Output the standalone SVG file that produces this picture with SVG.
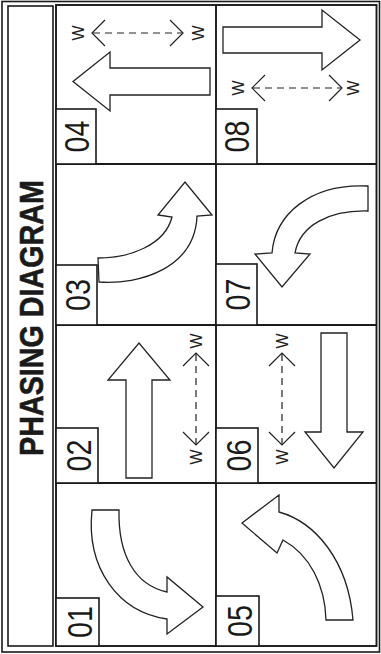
<svg xmlns="http://www.w3.org/2000/svg" width="381" height="654" viewBox="0 0 381 654">
<defs>
<style>
.frame{fill:none;stroke:#1a1a1a;stroke-width:1.6}
.grid{fill:none;stroke:#1a1a1a;stroke-width:1.9}
.lbox{fill:#fff;stroke:#1a1a1a;stroke-width:1.6}
.lbl{font-family:"Liberation Sans",Arial,sans-serif;font-size:35px;fill:#1a1a1a;text-anchor:middle}
.title{font-family:"Liberation Sans",Arial,sans-serif;font-weight:bold;font-size:34px;fill:#1a1a1a;text-anchor:middle;stroke:#1a1a1a;stroke-width:0.6}
.arrow{fill:#fff;stroke:#222;stroke-width:1.3;stroke-linejoin:miter}
.ped{fill:none;stroke:#222;stroke-width:1.2;stroke-dasharray:7 5}
.chev{fill:none;stroke:#222;stroke-width:1.2}
.w{font-family:"Liberation Sans",Arial,sans-serif;font-size:16px;fill:#222;text-anchor:middle}
</style>
</defs>
<rect width="381" height="654" fill="#fff"/>
<g id="frame">
<rect class="frame" x="2" y="1.5" width="377.5" height="650.5"/>
<rect class="frame" x="8" y="6" width="45" height="640"/>
<text class="title" transform="translate(42.5,318) rotate(-90)" textLength="276" lengthAdjust="spacingAndGlyphs">PHASING DIAGRAM</text>
</g>
<g id="grid">
<rect class="grid" x="56" y="5" width="320.5" height="641"/>
<line class="grid" x1="216" y1="5" x2="216" y2="646"/>
<line class="grid" x1="56" y1="164" x2="376.5" y2="164"/>
<line class="grid" x1="56" y1="325" x2="376.5" y2="325"/>
<line class="grid" x1="56" y1="483" x2="376.5" y2="483"/>
</g>
<g id="phase04">
<rect class="lbox" x="56" y="109" width="40" height="55"/>
<text class="lbl" transform="translate(88.5,136.5) rotate(-90) scale(0.82,1)">04</text>
<path class="arrow" d="M210 68 L110 68 L110 52 L73 81.5 L110 111 L110 95 L210 95 Z"/>
<line class="ped" x1="93" y1="33" x2="182" y2="33"/>
<polyline class="chev" points="105,20 92,33 105,46"/>
<polyline class="chev" points="170,20 183,33 170,46"/>
<text class="w" transform="translate(84,33) rotate(-90)">W</text>
<text class="w" transform="translate(203.5,33) rotate(-90)">W</text>
</g>
<g id="phase08">
<rect class="lbox" x="216" y="109" width="41" height="55"/>
<text class="lbl" transform="translate(248.5,136.5) rotate(-90) scale(0.82,1)">08</text>
<path class="arrow" d="M223 27 L322 27 L322 10 L360 40 L322 70 L322 53 L223 53 Z"/>
<line class="ped" x1="253" y1="88" x2="341" y2="88"/>
<polyline class="chev" points="265,75 252,88 265,101"/>
<polyline class="chev" points="329,75 342,88 329,101"/>
<text class="w" transform="translate(244,88) rotate(-90)">W</text>
<text class="w" transform="translate(359,88) rotate(-90)">W</text>
</g>
<g id="phase03">
<rect class="lbox" x="56" y="265" width="41" height="60"/>
<text class="lbl" transform="translate(89.5,295) rotate(-90) scale(0.82,1)">03</text>
<path class="arrow" d="M98 258 C130 258 165 245 172 217 L158 215 L185 182 L212 215 L197 216 C195 268 140 285 99 282 Z"/>
</g>
<g id="phase07">
<rect class="lbox" x="216" y="264" width="41" height="61"/>
<text class="lbl" transform="translate(249.5,294.5) rotate(-90) scale(0.82,1)">07</text>
<path class="arrow" d="M368 186 C310 183 275 215 272 253 L255 254 L282 287 L310 254 L295 253 C300 225 330 210 368 211 Z"/>
</g>
<g id="phase02">
<rect class="lbox" x="56" y="428" width="42" height="55"/>
<text class="lbl" transform="translate(90.5,455.5) rotate(-90) scale(0.82,1)">02</text>
<path class="arrow" d="M126 478 L126 380 L108 380 L139 343 L170 380 L152 380 L152 478 Z"/>
<line class="ped" x1="196" y1="354" x2="196" y2="444"/>
<polyline class="chev" points="183,366 196,353 209,366"/>
<polyline class="chev" points="183,432 196,445 209,432"/>
<text class="w" transform="translate(202,341) rotate(-90)">W</text>
<text class="w" transform="translate(202,457) rotate(-90)">W</text>
</g>
<g id="phase06">
<rect class="lbox" x="216" y="428" width="42" height="55"/>
<text class="lbl" transform="translate(250.5,455.5) rotate(-90) scale(0.82,1)">06</text>
<path class="arrow" d="M321 333 L347 333 L347 432 L363 432 L334 468 L305 432 L321 432 Z"/>
<line class="ped" x1="282" y1="354" x2="282" y2="444"/>
<polyline class="chev" points="269,366 282,353 295,366"/>
<polyline class="chev" points="269,432 282,445 295,432"/>
<text class="w" transform="translate(288,341) rotate(-90)">W</text>
<text class="w" transform="translate(288,457) rotate(-90)">W</text>
</g>
<g id="phase01">
<rect class="lbox" x="56" y="598" width="43" height="48"/>
<text class="lbl" transform="translate(91.5,622) rotate(-90) scale(0.82,1)">01</text>
<path class="arrow" d="M92 510 C86 568 118 612 167 619 L167 634 L203 607 L167 577 L167 592 C135 585 118 555 119 510 Z"/>
</g>
<g id="phase05">
<rect class="lbox" x="216" y="596" width="43" height="50"/>
<text class="lbl" transform="translate(251.5,621) rotate(-90) scale(0.82,1)">05</text>
<path class="arrow" d="M279 512 C315 522 348 560 353 620 L326 620 C325 585 310 555 283 540 L277 553 L242 523 L279 495 Z"/>
</g>
<g id="connectors"></g>
</svg>
